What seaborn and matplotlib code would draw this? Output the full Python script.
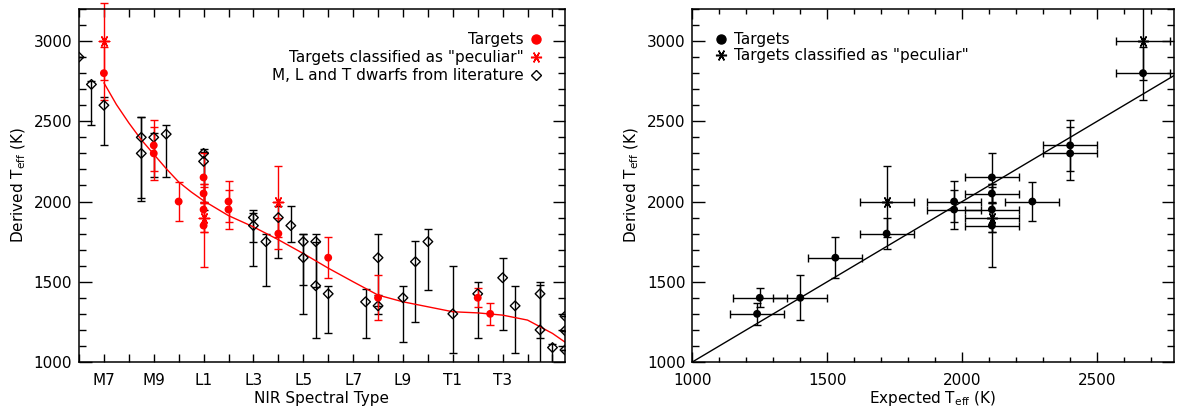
import matplotlib
matplotlib.use('Agg')
import matplotlib.pyplot as plt
from matplotlib.lines import Line2D
from matplotlib.ticker import MultipleLocator, FixedLocator
import seaborn as sns
import pandas as pd

# spectral type index: M0=0, L0=10, T0=20
spt_ticks = [7, 9, 11, 13, 15, 17, 19, 21, 23]
spt_labels = ['M7', 'M9', 'L1', 'L3', 'L5', 'L7', 'L9', 'T1', 'T3']

# M, L and T dwarfs from literature (left panel)
lit_spt = [6, 6.5, 7, 8.5, 8.5, 9, 9.5, 11, 11, 13, 13, 13.5, 14, 14.5, 15, 15,
           15.5, 15.5, 16, 17.5, 18, 18, 19, 19.5, 20, 21, 22, 23, 23.5, 24.5,
           24.5, 25, 25.5, 25.5, 25.5]
lit_teff = [2900, 2730, 2600, 2400, 2300, 2400, 2420, 2300, 2250, 1900, 1850, 1750,
            1900, 1850, 1750, 1650, 1750, 1475, 1425, 1375, 1650, 1350, 1400, 1625,
            1750, 1300, 1425, 1525, 1350, 1425, 1200, 1090, 1285, 1195, 1075]
lit_lo = [2900, 2475, 2350, 2020, 2005, 2150, 2150, 1950, 2000, 1750, 1600, 1475,
          1650, 1750, 1480, 1300, 1470, 1150, 1178, 1152, 1350, 1300, 1126, 1250,
          1450, 1054, 1151, 1199, 1054, 1150, 900, 950, 1285, 1195, 1075]
lit_hi = [2900, 2751, 2650, 2525, 2525, 2425, 2475, 2325, 2310, 1950, 1930, 1795,
          1975, 1975, 1795, 1795, 1795, 1750, 1474, 1453, 1800, 1420, 1475, 1753,
          1826, 1600, 1499, 1651, 1475, 1499, 1480, 1110, 1285, 1195, 1075]

# our targets (both panels)
tgt_spt = [7, 7, 9, 9, 10, 11, 11, 11, 11, 11, 12, 12, 14, 14, 16, 18, 22, 22.5]
tgt_exp = [2670, 2670, 2400, 2400, 2260, 2110, 2110, 2110, 2110, 2110,
           1970, 1970, 1720, 1720, 1530, 1400, 1250, 1240]
tgt_teff = [2800, 3000, 2350, 2300, 2000, 2150, 2050, 1950, 1900, 1850,
            2000, 1950, 2000, 1800, 1650, 1400, 1400, 1300]
tgt_err = [165, 240, 160, 165, 120, 150, 60, 140, 90, 260,
           125, 120, 220, 95, 128, 140, 60, 70]
tgt_pec = [False, True, False, False, False, False, False, False, True, False,
           False, False, True, False, False, False, False, False]
tgt_exp_err = [100] * len(tgt_exp)

# SpT-Teff relation (red curve)
fit_spt = [7, 7.5, 8, 8.5, 9, 9.5, 10, 10.5, 11, 12, 13, 14, 15, 16, 17, 18,
           19, 20, 21, 22, 23, 24, 25, 25.5]
fit_teff = [2740, 2605, 2490, 2385, 2295, 2205, 2122, 2060, 2005, 1912, 1842,
            1762, 1676, 1585, 1500, 1417, 1375, 1344, 1313, 1306, 1292, 1261,
            1178, 1124]

# one-to-one line (right panel)
one_x = [1000, 2800]
one_y = [1000, 2800]

lit = pd.DataFrame({'spt': lit_spt, 'teff': lit_teff, 'lo': lit_lo, 'hi': lit_hi})
tgt = pd.DataFrame({'spt': tgt_spt, 'exp': tgt_exp, 'teff': tgt_teff,
                    'err': tgt_err, 'xerr': tgt_exp_err, 'pec': tgt_pec})
fit = pd.DataFrame({'spt': fit_spt, 'teff': fit_teff})
one = pd.DataFrame({'x': one_x, 'y': one_y})
norm = tgt[~tgt['pec']]
pec = tgt[tgt['pec']]

sns.set_theme(style='ticks')
plt.rcParams['font.family'] = ['DejaVu Sans']
plt.rcParams['mathtext.fontset'] = 'dejavusans'
plt.rcParams['axes.linewidth'] = 1.1
plt.rcParams['text.color'] = 'black'
plt.rcParams['axes.labelcolor'] = 'black'

STAR = (6, 2, 90)
FS = 11

fig = plt.figure(figsize=(11.77, 4.12), dpi=100)
ax1 = fig.add_axes([0.0671, 0.1214, 0.4129, 0.8568])
ax2 = fig.add_axes([0.5882, 0.1214, 0.4093, 0.8568])

# ---- left panel: Teff vs NIR spectral type
ax1.errorbar(lit['spt'], lit['teff'], yerr=[lit['teff'] - lit['lo'], lit['hi'] - lit['teff']],
             fmt='none', ecolor='black', elinewidth=1, capsize=3, capthick=1)
sns.lineplot(data=fit, x='spt', y='teff', color='red', lw=1, ax=ax1)
ax1.errorbar(tgt['spt'], tgt['teff'], yerr=tgt['err'], fmt='none', ecolor='red',
             elinewidth=1, capsize=3, capthick=1, clip_on=False)
sns.scatterplot(data=lit, x='spt', y='teff', marker='D', s=24, facecolor='none',
                edgecolor='black', linewidth=1, ax=ax1, zorder=5)
sns.scatterplot(data=norm, x='spt', y='teff', marker='o', s=32, color='red',
                edgecolor='none', ax=ax1, zorder=6)
sns.scatterplot(data=pec, x='spt', y='teff', marker=STAR, s=55, color='red',
                edgecolor='red', linewidth=1.1, ax=ax1, zorder=6)

ax1.set_xlim(6, 25.5)
ax1.set_ylim(1000, 3200)
ax1.xaxis.set_major_locator(FixedLocator(spt_ticks))
ax1.set_xticklabels(spt_labels)
ax1.xaxis.set_minor_locator(MultipleLocator(1))
ax1.yaxis.set_major_locator(MultipleLocator(500))
ax1.yaxis.set_minor_locator(MultipleLocator(100))
ax1.set_xlabel('NIR Spectral Type', fontsize=FS, labelpad=2)
ax1.set_ylabel('Derived T$_{\\rm eff}$ (K)', fontsize=FS)
ax1.tick_params(axis='x', which='both', length=6)

h1 = [Line2D([], [], ls='none', marker='o', color='red', ms=6.5),
      Line2D([], [], ls='none', marker=STAR, color='red', mec='red', ms=8, mew=1.1),
      Line2D([], [], ls='none', marker='D', mfc='none', mec='black', ms=5, mew=1)]
ax1.legend(h1, ['Targets', 'Targets classified as "peculiar"',
                'M, L and T dwarfs from literature'],
           loc='upper right', markerfirst=False, frameon=False, fontsize=FS,
           handlelength=0.8, handletextpad=0.4, labelspacing=0.2,
           borderaxespad=1.1)

# ---- right panel: derived vs expected Teff
sns.lineplot(data=one, x='x', y='y', color='black', lw=1, ax=ax2)
ax2.errorbar(tgt['exp'], tgt['teff'], xerr=tgt['xerr'], yerr=tgt['err'], fmt='none',
             ecolor='black', elinewidth=1, capsize=3, capthick=1)
sns.scatterplot(data=norm, x='exp', y='teff', marker='o', s=32, color='black',
                edgecolor='none', ax=ax2, zorder=6)
sns.scatterplot(data=pec, x='exp', y='teff', marker=STAR, s=55, color='black',
                edgecolor='black', linewidth=1.1, ax=ax2, zorder=6)

ax2.set_xlim(1000, 2785)
ax2.set_ylim(1000, 3200)
ax2.xaxis.set_major_locator(MultipleLocator(500))
ax2.xaxis.set_minor_locator(MultipleLocator(100))
ax2.yaxis.set_major_locator(MultipleLocator(500))
ax2.yaxis.set_minor_locator(MultipleLocator(100))
ax2.set_xlabel('Expected T$_{\\rm eff}$ (K)', fontsize=FS, labelpad=1)
ax2.set_ylabel('Derived T$_{\\rm eff}$ (K)', fontsize=FS)
ax2.tick_params(axis='x', which='major', length=7)
ax2.tick_params(axis='x', which='minor', length=3.5)

h2 = [Line2D([], [], ls='none', marker='o', color='black', ms=6.5),
      Line2D([], [], ls='none', marker=STAR, color='black', mec='black', ms=8, mew=1.1)]
ax2.legend(h2, ['Targets', 'Targets classified as "peculiar"'],
           loc='upper left', frameon=False, fontsize=FS, handlelength=0.8,
           handletextpad=0.4, labelspacing=0.1, borderaxespad=1.1)

for ax in (ax1, ax2):
    ax.tick_params(which='both', direction='in', top=True, right=True,
                   labelsize=FS, color='black', labelcolor='black', width=1)
    ax.tick_params(axis='y', which='major', length=9, pad=5)
    ax.tick_params(axis='y', which='minor', length=5)
    ax.tick_params(axis='x', which='both', pad=8)
    for sp in ax.spines.values():
        sp.set_visible(True)
        sp.set_color('black')

fig.savefig('out.png', dpi=100)
